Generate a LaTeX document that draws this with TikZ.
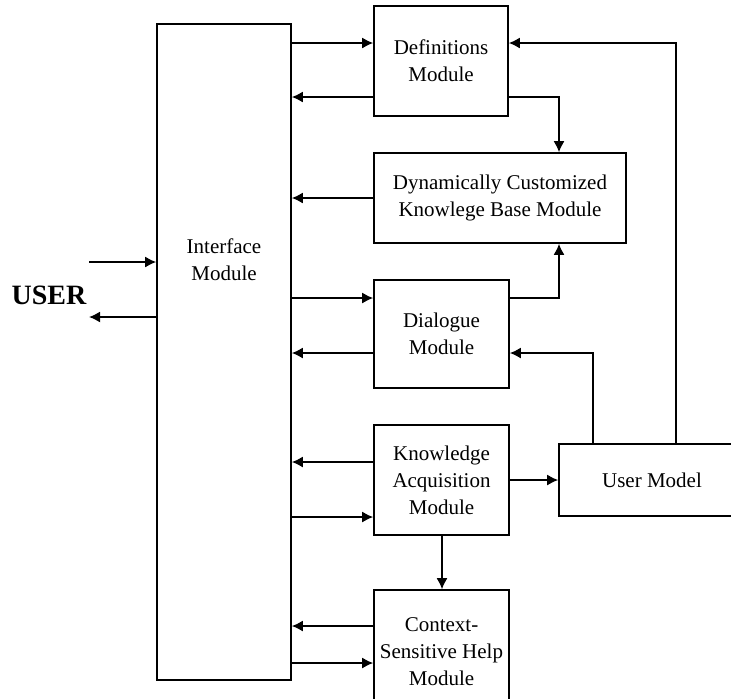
\documentclass[tikz,border=0pt]{standalone}
\usepackage{fontspec}
\setmainfont{Liberation Serif}
\usetikzlibrary{arrows.meta}
\begin{document}
\begin{tikzpicture}[x=0.5pt, y=-0.5pt, >={Latex[length=5.5pt,width=5.5pt]}, line width=0.8pt,
    box/.style={draw, rectangle, inner sep=0pt, align=center, font=\fontsize{10.5}{13.5}\selectfont},
    lbl/.style={align=center, font=\fontsize{10.5}{13.5}\selectfont}]
  \clip (0,0) rectangle (731,698);
  \node[box, minimum width=67pt, minimum height=328pt] (iface) at (224,352) {};
  \node[lbl] (ifacelbl) at (224,260) {Interface\\Module};
  \node[box, minimum width=67pt, minimum height=55pt] (defs) at (441,61) {Definitions\\Module};
  \node[box, minimum width=126pt, minimum height=45pt] (dkb) at (500,198) {Dynamically Customized\\Knowlege Base Module};
  \node[box, minimum width=67.5pt, minimum height=54pt] (dlg) at (441.5,334) {Dialogue\\Module};
  \node[box, minimum width=67.5pt, minimum height=55pt] (kacq) at (441.5,480) {Knowledge\\Acquisition\\Module};
  \node[box, minimum width=67.5pt, minimum height=62pt] (csh) at (441.5,652) {Context-\\Sensitive Help\\Module};
  \node[box, minimum width=93pt, minimum height=36pt] (umod) at (652,480) {User Model};
  \node[font=\fontsize{14}{16}\selectfont\bfseries] (user) at (49,295) {USER};
  \coordinate (uin) at (89,262);
  \coordinate (uout) at (89,317);
  \draw[->] (uin) -- (iface.west |- uin);
  \draw[->] (iface.west |- uout) -- (uout);
  \draw[->] (iface.east |- 0,43) -- (defs.west |- 0,43);
  \draw[->] (defs.west |- 0,97) -- (iface.east |- 0,97);
  \draw[->] (dkb.west) -- (iface.east |- dkb.west);
  \draw[->] (iface.east |- 0,298) -- (dlg.west |- 0,298);
  \draw[->] (dlg.west |- 0,353) -- (iface.east |- 0,353);
  \draw[->] (kacq.west |- 0,462) -- (iface.east |- 0,462);
  \draw[->] (iface.east |- 0,517) -- (kacq.west |- 0,517);
  \draw[->] (csh.west |- 0,626) -- (iface.east |- 0,626);
  \draw[->] (iface.east |- 0,663) -- (csh.west |- 0,663);
  \draw[->] (defs.east |- 0,97) -| (dkb.north -| 559,0);
  \draw[->] (dlg.east |- 0,298) -| (dkb.south -| 559,0);
  \draw[->] (umod.north -| 593,0) |- (dlg.east |- 0,353);
  \draw[->] (umod.north -| 676,0) |- (defs.east |- 0,43);
  \draw[->] (kacq.east) -- (umod.west);
  \draw[->] (kacq.south -| 442,0) -- (csh.north -| 442,0);
\end{tikzpicture}
\end{document}
